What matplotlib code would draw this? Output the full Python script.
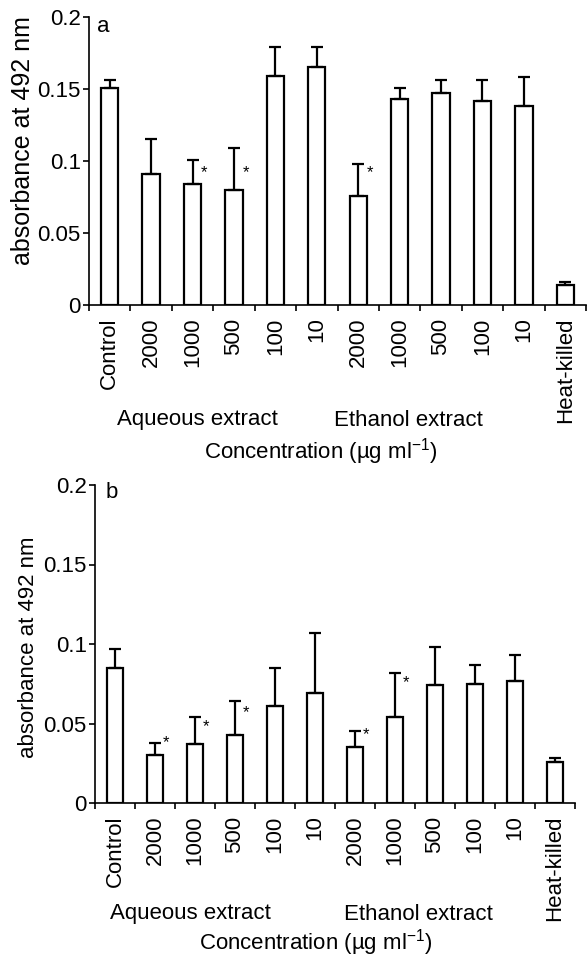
import numpy as np
import matplotlib
matplotlib.use('Agg')
import matplotlib.pyplot as plt
from matplotlib.ticker import FixedLocator

plt.rcParams['font.family'] = ['Liberation Sans', 'DejaVu Sans']
plt.rcParams['mathtext.fontset'] = 'custom'
plt.rcParams['mathtext.rm'] = 'Liberation Sans'

labels = ['Control', '2000', '1000', '500', '100', '10',
          '2000', '1000', '500', '100', '10', 'Heat-killed']

# panel a: mean absorbance and upper SD
a_mean = [0.151, 0.091, 0.084, 0.080, 0.159, 0.165, 0.076, 0.143, 0.147, 0.142, 0.138, 0.014]
a_err = [0.005, 0.024, 0.017, 0.029, 0.020, 0.014, 0.022, 0.008, 0.009, 0.014, 0.020, 0.002]
a_star_idx = [2, 3, 6]
a_star_y = [0.092, 0.092, 0.092]

# panel b
b_mean = [0.085, 0.030, 0.037, 0.043, 0.061, 0.069, 0.035, 0.054, 0.074, 0.075, 0.077, 0.026]
b_err = [0.012, 0.008, 0.017, 0.021, 0.024, 0.038, 0.010, 0.028, 0.024, 0.012, 0.016, 0.002]
b_star_idx = [1, 2, 3, 6, 7]
b_star_y = [0.038, 0.048, 0.057, 0.043, 0.076]

yticks = [0, 0.05, 0.1, 0.15, 0.2]
ytick_labels = ['0', '0.05', '0.1', '0.15', '0.2']

W, H = 588, 959
fig = plt.figure(figsize=(W / 100, H / 100), dpi=100)


def px(x, y):
    return x / W, 1 - y / H


def draw_panel(rect, mean, err, star_idx, star_y):
    l, t, r, b = rect
    ax = fig.add_axes([l / W, 1 - b / H, (r - l) / W, (b - t) / H])
    x = np.arange(len(mean))
    ax.bar(x, mean, width=0.42, color='white', edgecolor='black', linewidth=1.6, zorder=2)
    ax.errorbar(x, mean, yerr=[np.zeros(len(err)), err], fmt='none', ecolor='black',
                elinewidth=1.6, capsize=4.5, capthick=1.6, zorder=3)
    for i, sy in zip(star_idx, star_y):
        ax.text(i + 0.28, sy, '*', fontsize=12, ha='center', va='center')
    ax.set_xlim(-0.5, len(mean) - 0.5)
    ax.set_ylim(0, 0.2)
    ax.spines['top'].set_visible(False)
    ax.spines['right'].set_visible(False)
    ax.spines['left'].set_linewidth(1.2)
    ax.spines['bottom'].set_linewidth(1.2)
    ax.set_yticks(yticks)
    ax.set_yticklabels(ytick_labels, fontsize=16)
    ax.tick_params(axis='y', length=4, width=1.2, pad=2)
    ax.set_xticks(x)
    ax.set_xticklabels(labels, rotation=90, fontsize=16, va='top', ha='center')
    ax.tick_params(axis='x', which='major', length=0, pad=9)
    ax.xaxis.set_minor_locator(FixedLocator(np.arange(-0.5, len(mean), 1.0)))
    ax.tick_params(axis='x', which='minor', length=4, width=1.2)
    return ax


draw_panel((89, 17, 586, 305), a_mean, a_err, a_star_idx, a_star_y)
draw_panel((95, 485, 575, 803), b_mean, b_err, b_star_idx, b_star_y)

# panel a texts
fig.text(*px(103, 27), 'a', fontsize=16, ha='center', va='center')
fig.text(*px(23, 141), 'absorbance at 492 nm', fontsize=18, rotation=90, ha='center', va='center')
fig.text(*px(197, 420), 'Aqueous extract', fontsize=16, ha='center', va='center')
fig.text(*px(408, 420), 'Ethanol extract', fontsize=16, ha='center', va='center')
fig.text(*px(321, 452), r'Concentration (µg ml$^{\mathrm{-1}}$)', fontsize=16, ha='center', va='center')

# panel b texts
fig.text(*px(112, 492), 'b', fontsize=16, ha='center', va='center')
fig.text(*px(29, 647), 'absorbance at 492 nm', fontsize=16, rotation=90, ha='center', va='center')
fig.text(*px(190, 914), 'Aqueous extract', fontsize=16, ha='center', va='center')
fig.text(*px(418, 914), 'Ethanol extract', fontsize=16, ha='center', va='center')
fig.text(*px(316, 943), r'Concentration (µg ml$^{\mathrm{-1}}$)', fontsize=16, ha='center', va='center')

fig.savefig('out.png', dpi=100)
